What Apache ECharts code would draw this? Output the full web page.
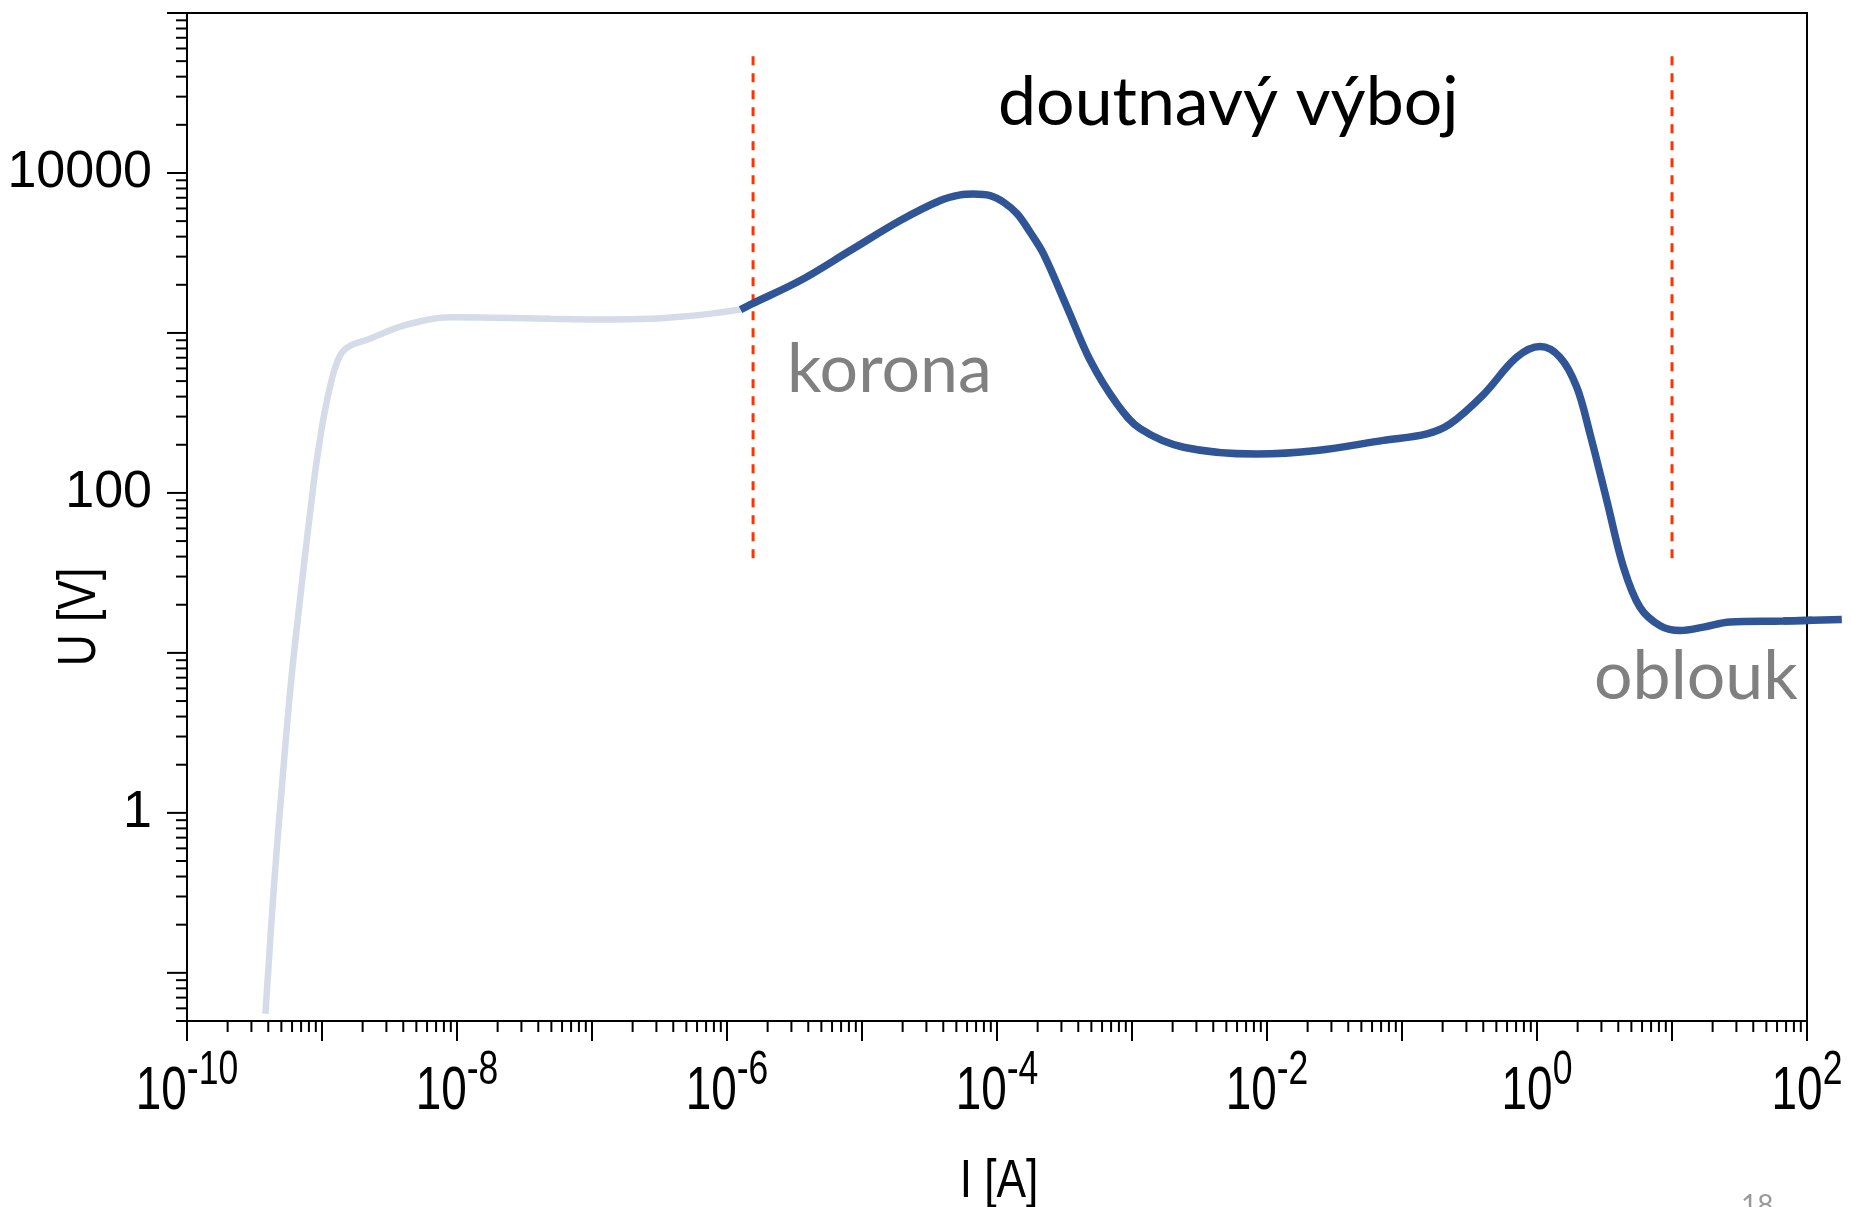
<!DOCTYPE html>
<html>
<head>
<meta charset="utf-8">
<script src="https://cdn.jsdelivr.net/npm/echarts@6/dist/echarts.min.js"></script>
<style>
html,body{margin:0;padding:0;background:#fff;}
#chart{width:1851px;height:1207px;}
</style>
</head>
<body>
<div id="chart"></div>
<script>
// ---------- data (current I [A], voltage U [V]) ----------
const preBreakdownI = [3.81e-10, 4.40e-10, 5.07e-10, 5.91e-10, 7.13e-10, 8.60e-10, 9.46e-10, 1.04e-9, 1.175e-9, 1.28e-9, 1.41e-9, 1.62e-9, 2.16e-9, 4.01e-9, 8.93e-9, 2.10e-8, 4.91e-8, 1.15e-7, 2.70e-7, 4.75e-7, 8.43e-7, 1.26e-6];
const preBreakdownU = [0.0555, 0.344, 1.53, 6.72, 28.4, 108.6, 193, 312, 504, 641, 757, 834, 906, 1112, 1253, 1243, 1225, 1213, 1225, 1266, 1335, 1400];

const dischargeI = [1.26e-6, 1.53e-6, 3.49e-6, 8.18e-6, 1.92e-5, 3.80e-5, 5.35e-5, 6.70e-5, 8.91e-5, 1.12e-4, 1.41e-4, 1.76e-4, 2.21e-4, 3.30e-4, 4.91e-4, 7.73e-4, 1.15e-3, 2.41e-3, 8.41e-3, 2.34e-2, 7.29e-2, 0.153, 0.227, 0.401, 0.708, 1.054, 1.48, 1.97, 2.47, 3.29, 4.37, 5.79, 8.17, 11.5, 17.1, 26.9, 66.8, 181];
const dischargeU = [1400, 1521, 2126, 3273, 5040, 6722, 7295, 7396, 7223, 6561, 5552, 4260, 3119, 1449, 672, 361, 252, 193, 175, 184, 213, 234, 270, 412, 705, 822, 705, 458, 234, 89.6, 34.4, 19.3, 14.8, 13.8, 14.5, 15.6, 15.8, 16.2];

const boundary1I = [1.56e-6, 1.56e-6];
const boundary2I = [10, 10];
const boundaryU = [39, 60000];

// ---------- axes / ticks ----------
const X_MIN = 1e-10, X_MAX = 100;
const Y_MIN = 0.05, Y_MAX = 1e5;
const xDecades = [1e-10, 1e-9, 1e-8, 1e-7, 1e-6, 1e-5, 1e-4, 1e-3, 1e-2, 1e-1, 1, 10, 100];
const yDecades = [0.01, 0.1, 1, 10, 100, 1000, 10000, 100000];
const minorMultipliers = [2, 3, 4, 5, 6, 7, 8, 9];
const xLabelValues = [1e-10, 1e-8, 1e-6, 1e-4, 1e-2, 1, 100];
const xLabelExponents = ['-10', '-8', '-6', '-4', '-2', '0', '2'];
const yLabelValues = [10000, 100, 1];
const yLabelTexts = ['10000', '100', '1'];

const regionTexts = ['doutnavý výboj', 'korona', 'oblouk'];
const axisNames = ['I [A]', 'U [V]'];

function inRange(v, lo, hi) { return v >= lo * 0.9999 && v <= hi * 1.0001; }
const xMajor = xDecades.filter(v => inRange(v, X_MIN, X_MAX));
const yMajor = yDecades.filter(v => inRange(v, Y_MIN, Y_MAX));
const xMinor = [], yMinor = [];
xDecades.forEach(d => minorMultipliers.forEach(m => { const v = d * m; if (inRange(v, X_MIN, X_MAX)) xMinor.push(v); }));
yDecades.forEach(d => minorMultipliers.forEach(m => { const v = d * m; if (inRange(v, Y_MIN, Y_MAX)) yMinor.push(v); }));

const FONT_AX = 'Liberation Sans, Arial, sans-serif';
const FONT_TXT = 'Lato, Carlito, Calibri, sans-serif';
const DARK = '#2F5597';

function renderAxes(params, api) {
  const ch = [];
  const st = { stroke: '#000', lineWidth: 2 };
  xMajor.forEach(v => { const p = api.coord([v, Y_MIN]); ch.push({ type: 'line', shape: { x1: p[0], y1: p[1], x2: p[0], y2: p[1] + 20 }, style: st }); });
  xMinor.forEach(v => { const p = api.coord([v, Y_MIN]); ch.push({ type: 'line', shape: { x1: p[0], y1: p[1], x2: p[0], y2: p[1] + 11 }, style: st }); });
  yMajor.forEach(v => { const p = api.coord([X_MIN, v]); ch.push({ type: 'line', shape: { x1: p[0] - 20, y1: p[1], x2: p[0], y2: p[1] }, style: st }); });
  yMinor.forEach(v => { const p = api.coord([X_MIN, v]); ch.push({ type: 'line', shape: { x1: p[0] - 11, y1: p[1], x2: p[0], y2: p[1] }, style: st }); });
  xLabelValues.forEach((v, i) => {
    const p = api.coord([v, Y_MIN]);
    ch.push({
      type: 'text', x: p[0], y: p[1] + 71, scaleX: 0.74,
      style: {
        text: '{b|10}{s|' + xLabelExponents[i] + '}',
        x: 0, y: 0, align: 'center', verticalAlign: 'middle',
        rich: {
          b: { fontSize: 62, fontFamily: FONT_AX, lineHeight: 62, verticalAlign: 'bottom', fill: '#000' },
          s: { fontSize: 48, fontFamily: FONT_AX, lineHeight: 48, verticalAlign: 'bottom', padding: [0, 0, 28, 0], fill: '#000' }
        }
      }
    });
  });
  yLabelValues.forEach((v, i) => {
    const p = api.coord([X_MIN, v]);
    ch.push({
      type: 'text', x: p[0] - 35, y: p[1],
      style: { text: yLabelTexts[i], x: 0, y: 0, align: 'right', verticalAlign: 'middle', fontSize: 52, fontFamily: FONT_AX, fill: '#000' }
    });
  });
  return { type: 'group', children: ch };
}

// the arc branch continues past the right frame; line series clip horizontally, so the last segment is drawn here
const nLast = dischargeI.length - 1;
function renderTail(params, api) {
  const a = api.coord([dischargeI[nLast - 1], dischargeU[nLast - 1]]);
  const b = api.coord([api.value(0), api.value(1)]);
  return { type: 'line', shape: { x1: a[0], y1: a[1], x2: b[0], y2: b[1] }, style: { stroke: DARK, lineWidth: 7.5, lineCap: 'butt' } };
}

const chart = echarts.init(document.getElementById('chart'), null, { renderer: 'canvas' });
chart.setOption({
  animation: false,
  backgroundColor: '#fff',
  grid: { left: 187, right: 44, top: 13, bottom: 186, show: true, borderColor: '#000', borderWidth: 2, backgroundColor: 'transparent' },
  xAxis: { type: 'log', logBase: 10, min: X_MIN, max: X_MAX, axisLine: { show: false }, axisTick: { show: false }, axisLabel: { show: false }, splitLine: { show: false } },
  yAxis: { type: 'log', logBase: 10, min: Y_MIN, max: Y_MAX, axisLine: { show: false }, axisTick: { show: false }, axisLabel: { show: false }, splitLine: { show: false } },
  series: [
    {
      type: 'line', name: 'pre', data: preBreakdownI.map((x, i) => [x, preBreakdownU[i]]),
      showSymbol: false, symbol: 'none', smooth: 0.35, clip: false,
      lineStyle: { color: '#D5DBE8', width: 6.5 }, z: 3
    },
    {
      type: 'line', name: 'discharge', data: dischargeI.map((x, i) => [x, dischargeU[i]]),
      showSymbol: false, symbol: 'none', smooth: 0.35, clip: false,
      lineStyle: { color: DARK, width: 7.5 }, z: 4
    },
    {
      type: 'custom', name: 'tail', coordinateSystem: 'cartesian2d',
      data: [[dischargeI[nLast], dischargeU[nLast]]],
      renderItem: renderTail, silent: true, clip: false, z: 4
    },
    {
      type: 'line', name: 'b1', data: boundary1I.map((x, i) => [x, boundaryU[i]]),
      symbol: 'none', lineStyle: { color: '#FF3300', width: 3, type: [9, 8] }, z: 2
    },
    {
      type: 'line', name: 'b2', data: boundary2I.map((x, i) => [x, boundaryU[i]]),
      symbol: 'none', lineStyle: { color: '#FF3300', width: 3, type: [9, 8] }, z: 2
    },
    {
      type: 'custom', name: 'axes', coordinateSystem: 'cartesian2d', data: [[1e-4, 1]],
      renderItem: renderAxes, silent: true, clip: false, z: 6
    }
  ],
  graphic: [
    { type: 'text', x: 998, y: 103, style: { text: regionTexts[0], fontSize: 68, fontFamily: FONT_TXT, fill: '#000', align: 'left', verticalAlign: 'middle' } },
    { type: 'text', x: 787, y: 370, style: { text: regionTexts[1], fontSize: 68, fontFamily: FONT_TXT, fill: '#808080', align: 'left', verticalAlign: 'middle' } },
    { type: 'text', x: 1594, y: 677, style: { text: regionTexts[2], fontSize: 68, fontFamily: FONT_TXT, fill: '#808080', align: 'left', verticalAlign: 'middle' } },
    { type: 'text', x: 999, y: 1182, scaleX: 0.82, style: { text: axisNames[0], x: 0, y: 0, fontSize: 54, fontFamily: FONT_AX, fill: '#000', align: 'center', verticalAlign: 'middle' } },
    { type: 'text', x: 80, y: 617, rotation: Math.PI / 2, scaleX: 0.82, style: { text: axisNames[1], x: 0, y: 0, fontSize: 54, fontFamily: FONT_AX, fill: '#000', align: 'center', verticalAlign: 'middle' } },
    { type: 'text', x: 1741, y: 1206, style: { text: '18', fontSize: 28, fontFamily: FONT_TXT, fill: '#999', align: 'left', verticalAlign: 'middle' } }
  ]
});
</script>
</body>
</html>
